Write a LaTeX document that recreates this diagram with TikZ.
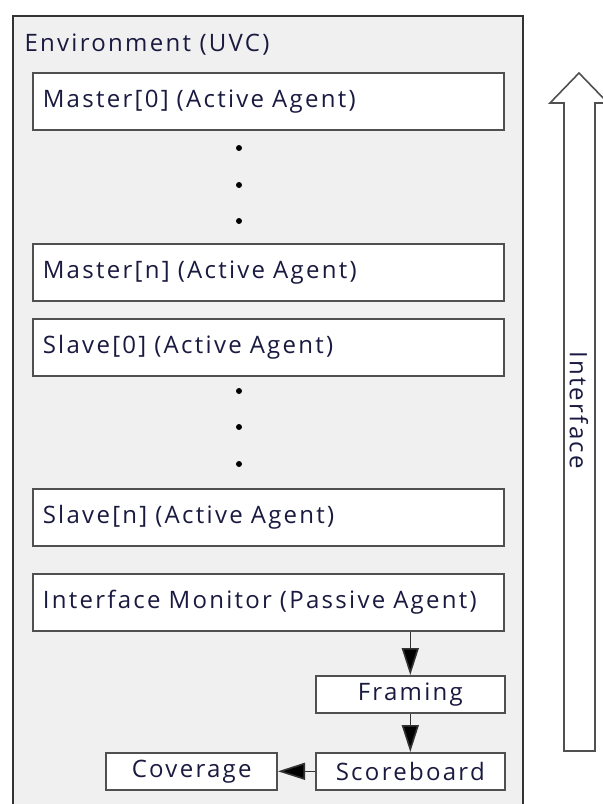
\documentclass[tikz,border=0pt]{standalone}
\usepackage{fontspec}
\setmainfont{Open Sans}[LetterSpace=9.5]
\usetikzlibrary{positioning,arrows.meta}

\definecolor{envgray}{HTML}{F0F0F0}
\definecolor{linegray}{HTML}{505050}
\definecolor{txtblue}{HTML}{1A1A40}

\tikzset{
  agent/.style={draw=linegray, fill=white, line width=1.6pt, anchor=north west,
    minimum height=57pt, text width=451pt, inner xsep=10pt, align=left,
    text=txtblue, font=\fontsize{24}{28}\selectfont},
  block/.style={draw=linegray, fill=white, line width=1.6pt,
    minimum height=37pt, minimum width=189pt, text=txtblue,
    font=\fontsize{24}{28}\selectfont},
  flow/.style={line width=1.6pt, draw=black!80, -{Triangle[length=27pt,width=17pt,fill=black]}},
}

\begin{document}
\begin{tikzpicture}[x=1pt,y=-1pt]
\useasboundingbox (0,0) rectangle (603,804);

% Environment
\draw[draw=black!80, fill=envgray, line width=1.8pt] (13,820) -- (13,16) -- (523,16) -- (523,820);
\node[anchor=west, text=txtblue, font=\fontsize{24}{28}\selectfont] (env) at (21,45) {Environment (UVC)};

% Define nodes
\node[agent] (m0) at (32,72)  {Master[0] (Active Agent)};
\node[agent] (mn) at (32,243) {Master[n] (Active Agent)};
\node[agent] (s0) at (32,318) {Slave[0] (Active Agent)};
\node[agent] (sn) at (32,488) {Slave[n] (Active Agent)};
\node[agent] (im) at (32,573) {Interface Monitor (Passive Agent)};

\node[block, anchor=north west] (framing) at (315,675) {Framing};
\node[block, anchor=north west] (score)   at (315,752) {Scoreboard};
\node[block, left=37pt of score, minimum width=171pt] (cov) {Coverage};

% Dots
\foreach \y in {148,185,221} \fill (239,\y) circle (3pt);
\foreach \y in {391,427,464} \fill (239,\y) circle (3pt);

% Connect the nodes
\draw[flow] (im.south -| framing.north) -- (framing.north);
\draw[flow] (framing) -- (score);
\draw[flow] (score) -- (cov);

% Interface arrow
\draw[draw=linegray, line width=1.6pt, fill=white] (564,751) -- (564,103) -- (550,103) -- (579,73)
  -- (608,103) -- (595,103) -- (595,751) -- cycle;
\node[rotate=-90, text=txtblue, font=\fontsize{24}{28}\selectfont] (iface) at (579,410) {Interface};

\end{tikzpicture}
\end{document}
